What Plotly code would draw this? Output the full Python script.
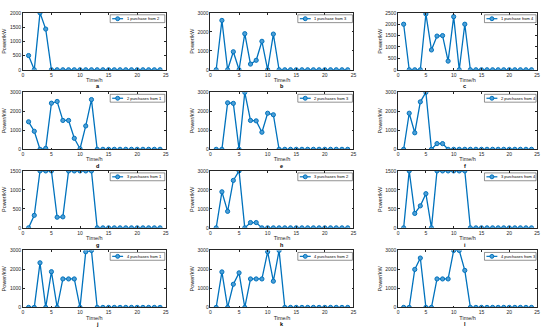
import plotly.graph_objects as go

hours = list(range(1, 25))

# each panel: (legend label, values for hours 1..24, y max, y tick step, letter)
p_a = [500, 0, 2000, 1430] + [0] * 20
p_b = [0, 2600, 0, 950, 0, 1900, 300, 500, 1500, 0, 1880] + [0] * 13
p_c = [2000, 0, 0, 0, 2450, 870, 1480, 1500, 380, 2330, 0, 2000] + [0] * 12
p_d = [1450, 950, 0, 50, 2430, 2520, 1520, 1520, 580, 30, 1230, 2620] + [0] * 12
p_e = [0, 0, 2450, 2420, 0, 3000, 1520, 1500, 900, 1900, 1820] + [0] * 13
p_f = [0, 1900, 870, 2500, 3000, 0, 300, 300] + [0] * 16
p_g = [0, 330, 1500, 1500, 1500, 280, 290, 1500, 1500, 1500, 1500, 1500] + [0] * 12
p_h = [0, 1900, 870, 2500, 3000, 0, 280, 280] + [0] * 16
p_i = [0, 1500, 380, 580, 900, 0, 1500, 1500, 1500, 1500, 1500, 1500] + [0] * 12
p_j = [0, 0, 2350, 0, 1880, 0, 1500, 1500, 1500, 0, 2930, 3000] + [0] * 12
p_k = [0, 1870, 0, 1220, 1820, 0, 1500, 1500, 1500, 2930, 1380, 3000] + [0] * 12
p_l = [0, 0, 2000, 2600, 0, 0, 1500, 1500, 1500, 3000, 3000, 1950] + [0] * 12

panels = [
    ("1 purchase from 2", p_a, 2000, 500, "a"),
    ("1 purchase from 3", p_b, 3000, 1000, "b"),
    ("1 purchase from 4", p_c, 2500, 500, "c"),
    ("2 purchases from 1", p_d, 3000, 1000, "d"),
    ("2 purchases from 3", p_e, 3000, 1000, "e"),
    ("2 purchases from 4", p_f, 3000, 1000, "f"),
    ("3 purchases from 1", p_g, 1500, 500, "g"),
    ("3 purchases from 2", p_h, 3000, 1000, "h"),
    ("3 purchases from 4", p_i, 1500, 500, "i"),
    ("4 purchases from 1", p_j, 3000, 1000, "j"),
    ("4 purchases from 2", p_k, 3000, 1000, "k"),
    ("4 purchases from 3", p_l, 3000, 1000, "l"),
]

W, H = 550, 333
col_px = [(22, 166), (211, 355), (400, 540)]
row_px = [(10, 68), (91, 149), (171, 229), (252, 310)]

blue = "#0072BD"
axis_col = "#262626"
font = "Liberation Sans, Arial, sans-serif"


def px_x(v):
    return v / W


def px_y(v):
    return 1 - v / H


fig = go.Figure()
layout = dict(
    width=W, height=H,
    margin=dict(l=0, r=0, t=0, b=0),
    paper_bgcolor="white", plot_bgcolor="white",
    font=dict(family=font, size=5, color=axis_col),
    showlegend=False,
    annotations=[], shapes=[],
)

for n, (label, vals, ymax, ystep, letter) in enumerate(panels):
    r, c = divmod(n, 3)
    k = "" if n == 0 else str(n + 1)
    x0, x1 = col_px[c]
    yt, yb = row_px[r]

    fig.add_trace(go.Scatter(
        x=hours, y=vals, name=label,
        mode="lines+markers",
        line=dict(color=blue, width=1.3),
        marker=dict(symbol="circle", size=4.2, color="#4D9FD6",
                    line=dict(color=blue, width=1)),
        xaxis="x" + k, yaxis="y" + k,
    ))

    common = dict(
        showline=True, linecolor=axis_col, linewidth=0.6, mirror="ticks",
        ticks="inside", ticklen=2, tickwidth=0.6, tickcolor=axis_col,
        showgrid=False, zeroline=False,
        tickfont=dict(size=5, color=axis_col, family=font),
    )
    layout["xaxis" + k] = dict(
        common, domain=[px_x(x0), px_x(x1)], range=[0, 25], tick0=0, dtick=5,
        anchor="y" + k,
        title=dict(text="Time/h", font=dict(size=5.5), standoff=1),
    )
    layout["yaxis" + k] = dict(
        common, domain=[px_y(yb), px_y(yt)], range=[0, ymax], tick0=0, dtick=ystep,
        anchor="x" + k,
        title=dict(text="Power/kW", font=dict(size=5.5), standoff=2),
    )

    # legend box drawn in the upper right corner of each panel
    lx1 = x1 - 1
    lx0 = lx1 - (52 if c == 2 else 55)
    ly0, ly1 = yt + 2, yt + 10
    ym = (ly0 + ly1) / 2
    layout["shapes"] += [
        dict(type="rect", xref="paper", yref="paper",
             x0=px_x(lx0), x1=px_x(lx1), y0=px_y(ly1), y1=px_y(ly0),
             line=dict(color=axis_col, width=0.5), fillcolor="white"),
        dict(type="line", xref="paper", yref="paper",
             x0=px_x(lx0 + 2), x1=px_x(lx0 + 13), y0=px_y(ym), y1=px_y(ym),
             line=dict(color=blue, width=1.2)),
        dict(type="circle", xref="paper", yref="paper",
             x0=px_x(lx0 + 5.5), x1=px_x(lx0 + 9.5),
             y0=px_y(ym + 2), y1=px_y(ym - 2),
             line=dict(color=blue, width=1), fillcolor="#4D9FD6"),
    ]
    layout["annotations"].append(dict(
        text=label, x=px_x(lx0 + 14.5), y=px_y(ym),
        xref="paper", yref="paper", showarrow=False,
        xanchor="left", yanchor="middle",
        font=dict(size=4, color="black"),
    ))
    layout["annotations"].append(dict(
        text=f"<b>{letter}</b>", x=px_x((x0 + x1) / 2), y=px_y(yb + 17),
        xref="paper", yref="paper", showarrow=False,
        font=dict(size=5.5, color="black"), yanchor="middle",
    ))

fig.update_layout(**layout)
fig.write_html(
    "out.html",
    config={"displayModeBar": False},
    post_script="document.body.style.margin='0';document.body.style.overflow='hidden';",
)
